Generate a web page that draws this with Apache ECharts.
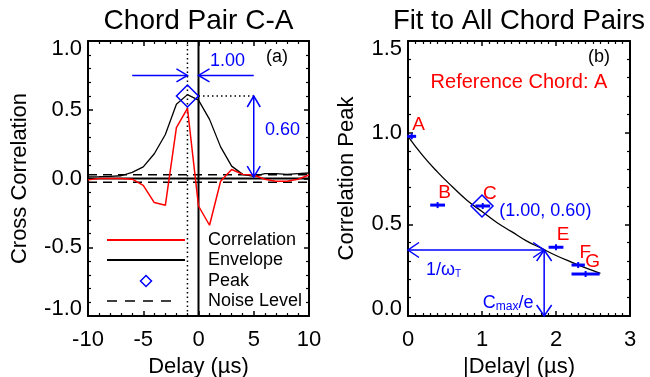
<!DOCTYPE html>
<html><head><meta charset="utf-8">
<script src="https://cdn.jsdelivr.net/npm/echarts@6/dist/echarts.min.js"></script>
<style>html,body{margin:0;padding:0;background:#fff}#c{width:650px;height:377px}</style>
</head><body><div id="c"></div>
<script>
// ---- Panel (a) data ----
const delays      = [-10,-9,-8,-7,-6,-5,-4,-3,-2,-1,0,1,2,3,4,5,6,7,8,9,10];
const correlation = [-0.01,0.0,0.0,0.0,-0.005,-0.05,-0.175,-0.195,0.37,0.51,-0.2,-0.34,-0.02,0.065,0.03,0.025,-0.005,-0.02,-0.02,-0.005,0.025];
const envelope    = [0.012,0.013,0.015,0.02,0.045,0.085,0.18,0.32,0.54,0.61,0.57,0.43,0.23,0.09,0.03,0.015,0.035,0.035,0.03,0.035,0.04];
const noiseLevel  = 0.027;
const peakDelay   = -1.0;
const peakValue   = 0.60;
const legendNames = ['Correlation','Envelope','Peak','Noise Level'];

// ---- Panel (b) data ----
const chords        = ['A','B','C','E','F','G'];
const chordDelay    = [0.05,0.40,1.01,2.00,2.30,2.40];
const chordDelayErr = [0.06,0.10,0.10,0.10,0.09,0.19];
const chordPeak     = [0.98,0.605,0.60,0.375,0.278,0.229];
const fitDelay = [0,0.2,0.4,0.6,0.8,1.0,1.2,1.4,1.6,1.8,2.0,2.2,2.4,2.6];
const fitPeak  = [0.98,0.875,0.785,0.705,0.63,0.57,0.51,0.46,0.41,0.37,0.33,0.295,0.262,0.233];
const fitTau   = 1.84;   // 1/omega_T
const fitCe    = 0.36;   // Cmax/e

const FONT = 'Liberation Sans, Arial, Helvetica, sans-serif';
const BLUE = '#0000ff', RED = '#ff0000';

function axisCommon(min, max, interval, minorSplit, pos, showLabel, fmt, margin){
  return {
    type:'value', min:min, max:max, interval:interval, position:pos,
    axisLine:{show:true, onZero:false, lineStyle:{color:'#000', width:2}},
    axisTick:{show:true, inside:true, length:5, lineStyle:{color:'#000', width:1.5}},
    minorTick:{show:true, splitNumber:minorSplit, length:3, lineStyle:{color:'#000', width:1.2}},
    splitLine:{show:false}, minorSplitLine:{show:false},
    axisLabel:{show:showLabel, fontSize:22, color:'#000', fontFamily:FONT, margin:margin, formatter:fmt,
      rich:{t:{fontSize:22, color:'#000', fontFamily:FONT, padding:[15,0,0,0]},
            b:{fontSize:22, color:'#000', fontFamily:FONT, padding:[0,0,15,0]}}},
    nameTextStyle:{fontSize:22, color:'#000', fontFamily:FONT}
  };
}
const fmtInt = v => String(Math.round(v));
function fmtY(min, max){
  return v => {
    const s = v.toFixed(1);
    if (Math.abs(v-max) < 1e-9) return '{t|' + s + '}';
    if (Math.abs(v-min) < 1e-9) return '{b|' + s + '}';
    return s;
  };
}

function arrowRender(headLen, headHalf){
  return function(params, api){
    const a = api.coord([api.value(0), api.value(1)]);
    const b = api.coord([api.value(2), api.value(3)]);
    const sH = api.value(4), eH = api.value(5);
    const dx=b[0]-a[0], dy=b[1]-a[1], L=Math.hypot(dx,dy), ux=dx/L, uy=dy/L;
    const st = {stroke:BLUE, fill:'none', lineWidth:1.5};
    const ch=[{type:'line', shape:{x1:a[0],y1:a[1],x2:b[0],y2:b[1]}, style:st}];
    function head(p, dxn, dyn){
      const bx=p[0]-dxn*headLen, by=p[1]-dyn*headLen, px=-dyn*headHalf, py=dxn*headHalf;
      ch.push({type:'polyline', shape:{points:[[bx+px,by+py],[p[0],p[1]],[bx-px,by-py]]}, style:st});
    }
    if(eH) head(b, ux, uy);
    if(sH) head(a, -ux, -uy);
    return {type:'group', children:ch};
  };
}

function errRender(params, api){
  const c=api.value(0), v=api.value(1), e=api.value(2);
  const lo=api.coord([c-e, v]), hi=api.coord([c+e, v]), m=api.coord([c, v]);
  return {type:'group', children:[
    {type:'line', shape:{x1:lo[0],y1:lo[1],x2:hi[0],y2:hi[1]}, style:{stroke:BLUE, lineWidth:3}},
    {type:'line', shape:{x1:m[0],y1:m[1]-3,x2:m[0],y2:m[1]+3}, style:{stroke:BLUE, lineWidth:2}}
  ]};
}

const arrowsA = [[-6,0.75,peakDelay,0.75,0,1],[5,0.75,0,0.75,0,1],[5,peakValue,5,0.01,1,1]];
const arrowsB = [[0,fitCe,fitTau,fitCe,1,1],[fitTau,fitCe,fitTau,0,1,1]];

const zip = (xs, ys) => xs.map((x,i)=>[x, ys[i]]);

function textSeries(xi, yi, items){
  return {type:'scatter', xAxisIndex:xi, yAxisIndex:yi, symbolSize:0, silent:true, z:10,
    itemStyle:{opacity:1},
    data: items.map(it=>({value:it.pos, label:Object.assign({show:true, position:'inside', formatter:it.text,
      fontFamily:FONT, fontSize:18, color:BLUE, align:'center', verticalAlign:'middle', opacity:1}, it.style||{})}))};
}

// manual legend (decoration)
const legendY = [240, 260, 281, 301];
const legendGraphic = [
  {type:'line', shape:{x1:107,y1:legendY[0],x2:185,y2:legendY[0]}, style:{stroke:RED, lineWidth:2}},
  {type:'line', shape:{x1:107,y1:legendY[1],x2:185,y2:legendY[1]}, style:{stroke:'#000', lineWidth:2}},
  {type:'polygon', shape:{points:[[146,legendY[2]-5.5],[151.5,legendY[2]],[146,legendY[2]+5.5],[140.5,legendY[2]]]}, style:{stroke:BLUE, fill:'none', lineWidth:1.5}},
  {type:'line', shape:{x1:107,y1:legendY[3],x2:177,y2:legendY[3]}, style:{stroke:'#000', lineWidth:1.5, lineDash:[10,8]}}
].concat(legendNames.map((n,i)=>({type:'text', x:208, y:legendY[i], style:{text:n, fill:'#000', fontSize:18, fontFamily:FONT, textAlign:'left', textVerticalAlign:'middle'}})));

const option = {
  animation:false,
  backgroundColor:'#fff',
  title:[
    {text:'Chord Pair C-A', left:198.5, top:7, padding:0, textAlign:'center', textStyle:{fontSize:28, fontWeight:'normal', color:'#000', fontFamily:FONT}},
    {text:'Fit to All Chord Pairs', left:519, top:7, padding:0, textAlign:'center', textStyle:{fontSize:27.5, fontWeight:'normal', color:'#000', fontFamily:FONT}}
  ],
  grid:[
    {left:88, right:341, top:41, bottom:61, containLabel:false, outerBoundsMode:'none'},
    {left:408, right:20, top:41, bottom:61, containLabel:false, outerBoundsMode:'none'}
  ],
  graphic: legendGraphic,
  xAxis:[
    Object.assign(axisCommon(-10,10,5,5,'bottom',true,fmtInt,13), {gridIndex:0, name:'Delay (µs)', nameLocation:'middle', nameGap:36}),
    Object.assign(axisCommon(-10,10,5,5,'top',false,fmtInt,8), {gridIndex:0}),
    Object.assign(axisCommon(0,3,1,10,'bottom',true,fmtInt,13), {gridIndex:1, name:'|Delay| (µs)', nameLocation:'middle', nameGap:36}),
    Object.assign(axisCommon(0,3,1,10,'top',false,fmtInt,8), {gridIndex:1})
  ],
  yAxis:[
    Object.assign(axisCommon(-1,1,0.5,5,'left',true,fmtY(-1,1),6), {gridIndex:0, name:'Cross Correlation', nameLocation:'middle', nameGap:57}),
    Object.assign(axisCommon(-1,1,0.5,5,'right',false,fmtY(-1,1),6), {gridIndex:0}),
    Object.assign(axisCommon(0,1.5,0.5,5,'left',true,fmtY(0,1.5),6), {gridIndex:1, name:'Correlation Peak', nameLocation:'middle', nameGap:50}),
    Object.assign(axisCommon(0,1.5,0.5,5,'right',false,fmtY(0,1.5),6), {gridIndex:1})
  ],
  series:[
    {name:'Envelope', type:'line', xAxisIndex:0, yAxisIndex:0, data:zip(delays, envelope), symbol:'none', lineStyle:{color:'#000', width:1.3}, itemStyle:{color:'#000'}, z:3},
    {name:'Correlation', type:'line', xAxisIndex:0, yAxisIndex:0, data:zip(delays, correlation), symbol:'none', lineStyle:{color:RED, width:1.5}, itemStyle:{color:RED}, z:4},
    {name:'Noise Level', type:'line', xAxisIndex:0, yAxisIndex:0, data:[[-10,noiseLevel],[10,noiseLevel]], symbol:'none', lineStyle:{color:'#000', width:1.5, type:[9,6]}, itemStyle:{color:'#000'}, z:2},
    {name:'Noise Level', type:'line', xAxisIndex:0, yAxisIndex:0, data:[[-10,-noiseLevel],[10,-noiseLevel]], symbol:'none', lineStyle:{color:'#000', width:1.5, type:[9,6]}, itemStyle:{color:'#000'}, z:2},
    {name:'zeroH', type:'line', xAxisIndex:0, yAxisIndex:0, data:[[-10,0],[10,0]], symbol:'none', lineStyle:{color:'#000', width:2}, z:2},
    {name:'zeroV', type:'line', xAxisIndex:0, yAxisIndex:0, data:[[0,-1],[0,1]], symbol:'none', lineStyle:{color:'#000', width:2}, z:2},
    {name:'peakV', type:'line', xAxisIndex:0, yAxisIndex:0, data:[[peakDelay,-1],[peakDelay,1]], symbol:'none', lineStyle:{color:'#000', width:1.5, type:[1.5,3]}, z:2},
    {name:'peakH', type:'line', xAxisIndex:0, yAxisIndex:0, data:[[0,peakValue],[5,peakValue]], symbol:'none', lineStyle:{color:'#000', width:1.5, type:[1.5,3]}, z:2},
    {name:'Peak', type:'scatter', xAxisIndex:0, yAxisIndex:0, data:[[peakDelay, peakValue]], symbol:'diamond', symbolSize:22, itemStyle:{color:'rgba(0,0,0,0)', borderColor:BLUE, borderWidth:1.5, opacity:1}, z:6},
    {name:'arrowsA', type:'custom', xAxisIndex:0, yAxisIndex:0, renderItem:arrowRender(11,6.5), data:arrowsA, z:7, silent:true},
    textSeries(0,0,[
      {pos:[2.62,0.855], text:'1.00'},
      {pos:[7.6,0.353], text:'0.60'},
      {pos:[7.1,0.884], text:'(a)', style:{color:'#000'}}
    ]),
    // panel (b)
    {name:'fit', type:'line', xAxisIndex:2, yAxisIndex:2, data:zip(fitDelay, fitPeak), smooth:true, symbol:'none', lineStyle:{color:'#000', width:1.3}, z:3},
    {name:'errbars', type:'custom', xAxisIndex:2, yAxisIndex:2, renderItem:errRender,
      data:chordDelay.map((d,i)=>[d, chordPeak[i], chordDelayErr[i]]), z:5, silent:true},
    {name:'chordLabels', type:'scatter', xAxisIndex:2, yAxisIndex:2, symbolSize:0, silent:true, z:8, itemStyle:{opacity:1},
      data:chordDelay.map((d,i)=>({value:[d, chordPeak[i]], label:{show:true, position:'inside', offset:[7,-12], formatter:chords[i],
        fontFamily:FONT, fontSize:19, color:RED, align:'center', verticalAlign:'middle', opacity:1}}))},
    {name:'peakB', type:'scatter', xAxisIndex:2, yAxisIndex:2, data:[[1.0, 0.60]], symbol:'diamond', symbolSize:22, itemStyle:{color:'rgba(0,0,0,0)', borderColor:BLUE, borderWidth:1.5, opacity:1}, z:6},
    {name:'arrowsB', type:'custom', xAxisIndex:2, yAxisIndex:2, renderItem:arrowRender(11,7.5), data:arrowsB, z:7, silent:true},
    textSeries(2,2,[
      {pos:[1.5,1.274], text:'Reference Chord: A', style:{color:RED, fontSize:20}},
      {pos:[2.58,1.413], text:'(b)', style:{color:'#000'}},
      {pos:[1.234,0.574], text:'(1.00, 0.60)', style:{align:'left'}},
      {pos:[0.243,0.26], text:'{n|1/ω}{s|T}', style:{align:'left', rich:{n:{fontSize:18, color:BLUE, fontFamily:FONT, lineHeight:22, verticalAlign:'bottom'}, s:{fontSize:10, color:BLUE, fontFamily:FONT, lineHeight:9, verticalAlign:'bottom'}}}},
      {pos:[1.01,0.08], text:'{n|C}{s|max}{n|/e}', style:{align:'left', rich:{n:{fontSize:18, color:BLUE, fontFamily:FONT, lineHeight:22, verticalAlign:'bottom'}, s:{fontSize:12, color:BLUE, fontFamily:FONT, lineHeight:10, verticalAlign:'bottom'}}}}
    ])
  ]
};
const chart = echarts.init(document.getElementById('c'), null, {renderer:'canvas'});
chart.setOption(option);
</script>
</body></html>
